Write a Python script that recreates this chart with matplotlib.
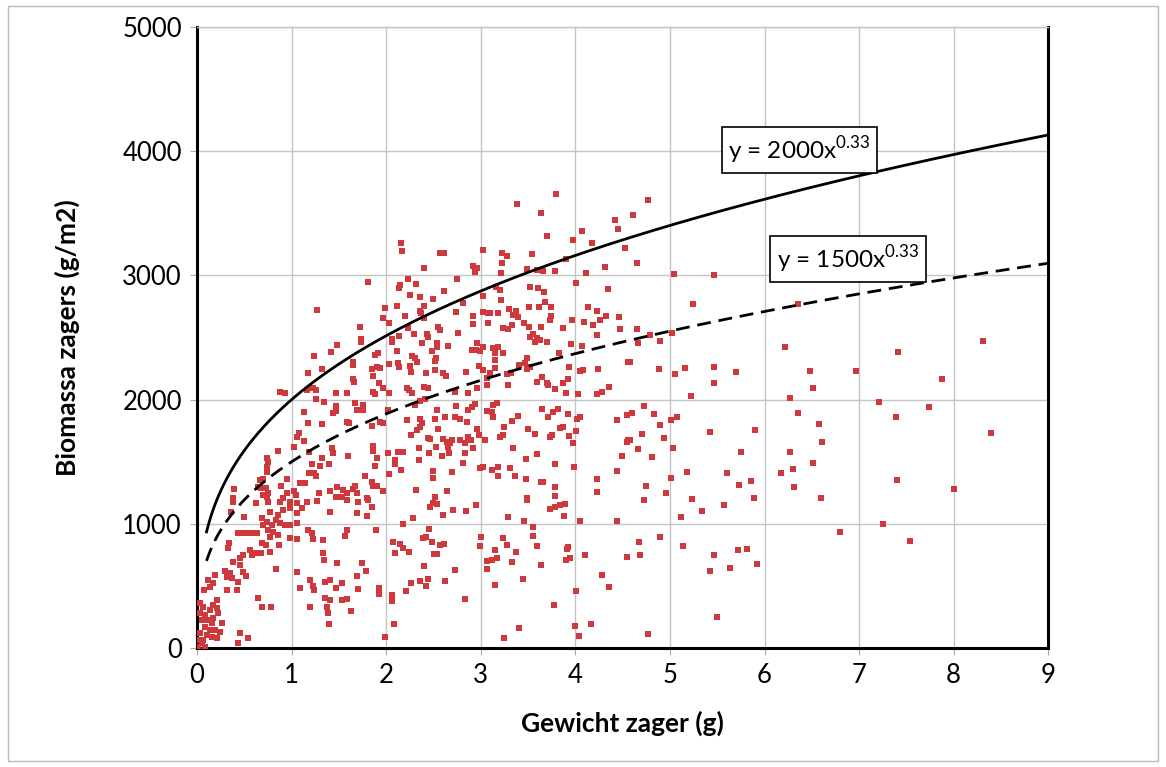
import numpy as np
import matplotlib
matplotlib.use("Agg")
import matplotlib.pyplot as plt
from matplotlib.patches import Rectangle

plt.rcParams['font.family'] = ['Lato', 'DejaVu Sans']
plt.rcParams['mathtext.fontset'] = 'custom'
plt.rcParams['mathtext.rm'] = 'Lato'

punten_rechts = [
    (4.77, 3607), (4.61, 3486), (4.65, 3100), (5.04, 3011), (5.47, 3003), (5.24, 2770),
    (6.35, 2770), (4.65, 2568), (4.79, 2520), (4.66, 2456), (4.89, 2472), (5.02, 2536),
    (6.22, 2424), (4.58, 2303), (4.88, 2246), (5.05, 2206), (5.16, 2254), (5.47, 2262),
    (5.47, 2134), (5.70, 2222), (6.48, 2230), (6.51, 2093), (5.22, 2029), (6.27, 2013),
    (4.60, 1892), (4.73, 1948), (4.83, 1884), (4.90, 1795), (5.01, 1836), (5.07, 1860),
    (6.35, 1892), (4.70, 1723), (4.94, 1691), (4.58, 1675), (5.42, 1739), (5.90, 1755),
    (6.58, 1804), (6.61, 1659), (4.66, 1602), (5.03, 1610), (4.81, 1538), (5.75, 1578),
    (6.27, 1578), (6.51, 1490), (5.18, 1417), (5.60, 1409), (6.17, 1409), (6.30, 1441),
    (5.01, 1369), (4.75, 1304), (5.73, 1312), (5.86, 1345), (6.31, 1296), (4.96, 1248),
    (4.73, 1192), (5.23, 1200), (5.57, 1151), (5.89, 1208), (6.60, 1208), (5.34, 1103),
    (5.12, 1055), (6.80, 934), (4.67, 853), (4.89, 894), (4.68, 749), (5.14, 821),
    (5.47, 749), (5.72, 789), (5.81, 797), (5.42, 620), (5.64, 644), (5.92, 676),
    (5.50, 250), (4.77, 113),
    (8.31, 2472), (7.41, 2383), (6.97, 2230), (7.88, 2166), (7.21, 1981), (7.74, 1940),
    (7.39, 1860), (8.40, 1731), (7.40, 1353), (8.00, 1280), (7.25, 998), (7.54, 862),
]

punten_boven = [
    (1.27, 2721),
    (2.16, 3261), (2.17, 3196), (2.57, 3180), (2.61, 3180), (3.02, 3204), (2.40, 3060),
    (2.92, 3076), (2.96, 3060), (2.94, 3027), (1.81, 2947), (2.23, 2971), (2.75, 2971),
    (2.15, 2923), (2.14, 2899), (2.32, 2931), (2.61, 2874), (2.25, 2842), (2.36, 2826),
    (2.49, 2810), (3.02, 2834), (1.99, 2737), (2.11, 2754), (2.40, 2754), (2.36, 2713),
    (2.37, 2697), (2.81, 2778), (2.74, 2705), (1.97, 2657), (2.03, 2617), (2.20, 2673),
    (2.40, 2657), (2.92, 2673), (2.92, 2609), (3.02, 2705), (3.08, 2697), (3.08, 2617),
    (1.72, 2585), (2.23, 2576), (2.55, 2585), (2.57, 2560), (2.76, 2536), (2.29, 2528),
    (2.43, 2528), (2.44, 2504), (2.14, 2512), (2.06, 2488), (1.73, 2488),
    (3.80, 3655), (3.38, 3575), (3.64, 3502), (4.42, 3446), (4.45, 3373), (4.07, 3357),
    (3.70, 3317), (3.97, 3285), (4.18, 3261), (4.52, 3221), (3.22, 3180), (3.28, 3156),
    (3.54, 3172), (3.90, 3132), (3.22, 3100), (4.31, 3068), (3.21, 3019), (3.49, 3051),
    (3.59, 3043), (3.66, 3035), (3.78, 3035), (4.11, 3019), (3.16, 2907), (3.20, 2882),
    (3.52, 2907), (3.60, 2899), (3.67, 2866), (4.01, 2939), (4.34, 2890), (3.21, 2802),
    (3.68, 2786), (3.51, 2745), (3.62, 2745), (3.74, 2745), (4.13, 2745), (3.10, 2697),
    (3.18, 2697), (3.30, 2729), (3.37, 2713), (3.34, 2681), (3.39, 2665), (3.74, 2673),
    (3.73, 2641), (4.23, 2713), (4.32, 2673), (4.26, 2641), (4.46, 2665), (3.46, 2617),
    (3.51, 2585), (3.23, 2576), (3.29, 2568), (3.33, 2601), (3.64, 2585), (3.87, 2576),
    (3.96, 2641), (4.09, 2625), (4.19, 2601), (4.47, 2568), (4.23, 2520), (3.55, 2528),
    (3.59, 2496), (3.52, 2504),
]

punten_midden = [
    (1.48, 2440), (1.42, 2383), (1.24, 2351), (1.32, 2246), (1.17, 2214), (0.88, 2061),
    (0.93, 2053), (1.16, 2077), (1.23, 2093), (1.26, 2077), (1.47, 2053), (1.26, 2005),
    (1.34, 1981), (1.47, 1948), (1.47, 1908), (1.44, 1892), (1.13, 1900), (1.17, 1812),
    (1.32, 1804), (1.08, 1731), (1.06, 1699), (1.13, 1667), (1.03, 1618), (0.86, 1586),
    (1.18, 1578), (1.43, 1610), (1.44, 1570), (0.74, 1530), (0.75, 1498), (0.74, 1457),
    (1.32, 1530), (1.22, 1481), (1.30, 1465), (1.40, 1481), (1.18, 1409), (1.24, 1409),
    (1.26, 1385), (0.74, 1417), (0.67, 1353), (0.70, 1361), (0.95, 1361), (0.89, 1304),
    (1.09, 1328), (1.14, 1328), (0.64, 1296), (0.68, 1288), (0.73, 1288), (0.39, 1280),
    (0.75, 1248), (0.74, 1216), (0.70, 1232), (0.95, 1248), (1.03, 1264), (1.05, 1232),
    (1.29, 1248), (1.41, 1264), (1.48, 1296), (1.47, 1216), (0.91, 1208), (0.38, 1208),
    (1.73, 2464), (2.06, 2464), (2.38, 2456), (2.54, 2456), (2.54, 2424), (2.65, 2432),
    (2.96, 2456), (3.02, 2424), (2.95, 2399), (1.88, 2359), (1.91, 2375), (2.11, 2391),
    (2.27, 2351), (2.33, 2303), (2.30, 2335), (2.48, 2391), (2.53, 2335), (2.52, 2311),
    (2.91, 2399), (2.99, 2391), (1.65, 2303), (1.65, 2278), (2.03, 2287), (2.12, 2295),
    (2.14, 2262), (2.25, 2270), (1.85, 2246), (1.90, 2262), (1.93, 2254), (2.26, 2222),
    (2.42, 2214), (2.52, 2238), (2.60, 2214), (2.63, 2190), (2.84, 2222), (2.98, 2270),
    (3.02, 2238), (1.65, 2166), (1.66, 2142), (1.86, 2190), (1.92, 2134), (1.97, 2093),
    (2.03, 2053), (1.86, 2061), (1.88, 2045), (1.59, 2053), (2.22, 2093), (2.24, 2077),
    (2.27, 2053), (2.40, 2101), (2.44, 2093), (2.36, 1989), (2.41, 2005), (2.73, 2061),
    (2.86, 2053), (2.96, 2093), (3.07, 2174), (3.07, 2118), (1.67, 1973), (1.75, 1957),
    (1.69, 1916), (1.75, 1916), (2.02, 1916), (2.30, 1957), (2.54, 1916), (2.74, 1948),
    (2.86, 1916), (2.91, 1940), (2.94, 1965), (3.07, 1908), (1.59, 1820), (1.61, 1812),
    (1.85, 1787), (1.93, 1820), (1.97, 1812), (2.22, 1836), (2.36, 1844), (2.38, 1812),
    (2.36, 1779), (2.52, 1844), (2.62, 1860), (2.73, 1860), (2.78, 1844), (2.85, 1820),
    (2.96, 1763), (2.26, 1715), (2.33, 1755), (2.55, 1763), (2.44, 1691), (2.46, 1683),
    (2.60, 1683), (2.64, 1659), (2.67, 1651), (2.70, 1675), (2.78, 1675), (2.83, 1651),
    (2.86, 1699), (2.90, 1675), (2.92, 1610), (2.98, 1715), (3.04, 1675), (1.86, 1626),
    (1.86, 1586), (1.60, 1546), (2.02, 1570), (2.12, 1578), (2.18, 1578), (2.35, 1610),
    (2.45, 1570), (2.53, 1618), (2.65, 1618), (2.59, 1546), (2.66, 1570), (2.83, 1570),
    (2.92, 1610), (1.90, 1530), (2.09, 1514), (2.09, 1481), (2.35, 1514), (2.81, 1490),
    (3.02, 1457), (2.99, 1449), (1.88, 1465), (2.16, 1433), (2.03, 1401), (2.49, 1425),
    (2.49, 1369), (2.70, 1417), (1.78, 1385), (1.67, 1304), (1.65, 1280), (1.85, 1336),
    (1.86, 1304), (1.90, 1304), (1.54, 1272), (1.59, 1248), (1.53, 1216), (1.69, 1248),
    (1.97, 1264), (2.32, 1272), (2.64, 1264), (1.80, 1208), (2.52, 1216),
    (3.57, 2464), (3.63, 2480), (3.70, 2464), (3.13, 2415), (3.18, 2424), (3.15, 2375),
    (3.23, 2375), (3.95, 2448), (4.07, 2432), (3.83, 2375), (4.56, 2303), (3.15, 2319),
    (3.15, 2254), (3.49, 2335), (3.47, 2295), (3.52, 2262), (3.49, 2246), (3.40, 2278),
    (3.93, 2262), (4.05, 2230), (4.08, 2238), (4.24, 2246), (3.28, 2206), (3.32, 2214),
    (3.29, 2118), (3.10, 2214), (3.65, 2182), (3.59, 2142), (3.70, 2134), (3.71, 2118),
    (3.92, 2166), (3.87, 2134), (3.78, 2085), (3.90, 2053), (4.03, 2045), (4.23, 2045),
    (4.28, 2061), (4.36, 2101), (3.13, 1957), (3.17, 1973), (3.12, 1900), (3.13, 1860),
    (3.65, 1924), (3.71, 1860), (3.76, 1900), (3.82, 1924), (3.39, 1868), (3.33, 1828),
    (3.92, 1884), (4.05, 1860), (4.02, 1844), (4.44, 1836), (4.55, 1876), (3.25, 1779),
    (3.23, 1715), (3.20, 1699), (3.50, 1763), (3.57, 1723), (3.84, 1771), (3.87, 1779),
    (3.75, 1715), (3.73, 1699), (4.01, 1747), (3.93, 1707), (3.97, 1651), (4.55, 1659),
    (4.56, 1675), (3.34, 1610), (3.59, 1562), (3.48, 1522), (4.49, 1546), (3.78, 1481),
    (3.18, 1457), (3.12, 1433), (3.18, 1385), (3.31, 1449), (3.36, 1385), (3.99, 1457),
    (4.44, 1425), (3.48, 1361), (3.64, 1336), (3.66, 1336), (3.79, 1296), (4.23, 1361),
    (4.23, 1256), (3.49, 1208), (3.79, 1224),
]

punten_onder = [
    (0.38, 1176), (0.62, 1167), (0.75, 1176), (0.88, 1176), (0.98, 1176), (1.06, 1167),
    (1.16, 1176), (1.27, 1184), (0.36, 1095), (0.50, 1055), (0.77, 1095), (0.86, 1071),
    (0.91, 1111), (0.98, 1127), (1.06, 1087), (1.11, 1127), (1.41, 1095), (0.69, 1047),
    (0.74, 1014), (0.70, 990), (0.79, 990), (0.84, 1030), (0.88, 1006), (0.93, 990),
    (0.98, 990), (1.06, 1006), (0.75, 950), (0.80, 934), (0.86, 910), (1.17, 950),
    (1.22, 926), (1.23, 878), (0.43, 926), (0.49, 926), (0.54, 926), (0.59, 926),
    (0.63, 926), (0.77, 894), (0.98, 886), (1.06, 878), (1.33, 870), (0.34, 845),
    (0.33, 805), (0.69, 845), (0.73, 829), (0.87, 829), (0.56, 789), (0.61, 765),
    (0.68, 765), (0.77, 773), (1.33, 765), (1.34, 709), (0.49, 749), (0.45, 725),
    (0.38, 692), (0.58, 749), (0.45, 668), (1.48, 684), (0.84, 636), (0.30, 620),
    (0.35, 604), (0.37, 564), (0.32, 572), (0.49, 612), (0.52, 580), (0.19, 588),
    (1.06, 612), (0.12, 548), (0.17, 523), (0.14, 491), (0.43, 531), (0.42, 467),
    (0.32, 467), (0.07, 467), (1.19, 548), (1.23, 499), (1.24, 467), (1.09, 483),
    (1.35, 531), (1.41, 548), (1.47, 483), (0.21, 386), (0.17, 346), (0.21, 322),
    (0.14, 306), (0.64, 403), (0.69, 330), (0.78, 330), (1.19, 330), (1.35, 403),
    (1.41, 386), (1.37, 330), (1.38, 282), (1.40, 193),
    (0.03, 362), (0.06, 330), (0.03, 282), (0.08, 266), (0.05, 225), (0.12, 225),
    (0.16, 201), (0.08, 169), (0.14, 145), (0.03, 121), (0.11, 105), (0.00, 64),
    (0.06, 64), (0.01, 8), (0.05, 40), (0.17, 242), (0.22, 282), (0.26, 201),
    (0.19, 145), (0.24, 129), (0.16, 89), (0.21, 81), (0.08, 8), (0.00, 0),
    (0.45, 121), (0.43, 40), (0.54, 81),
    (1.59, 1192), (1.70, 1176), (1.81, 1192), (1.85, 1135), (1.69, 1087), (1.80, 1063),
    (1.59, 950), (1.56, 902), (1.89, 950), (1.74, 684), (1.79, 620), (1.69, 580),
    (1.53, 523), (1.70, 475), (1.92, 483), (1.92, 435), (1.53, 386), (1.59, 395),
    (1.63, 298), (1.99, 89), (2.06, 427), (2.06, 378), (2.08, 193), (2.18, 998),
    (2.28, 1047), (2.46, 1135), (2.49, 1167), (2.54, 1159), (2.60, 1071), (2.71, 1111),
    (2.84, 1103), (2.95, 1151), (2.07, 853), (2.09, 765), (2.15, 837), (2.18, 805),
    (2.24, 773), (2.45, 958), (2.39, 886), (2.42, 894), (2.48, 853), (2.57, 829),
    (2.61, 837), (2.51, 757), (2.54, 757), (2.40, 660), (2.26, 523), (2.21, 459),
    (2.36, 539), (2.44, 556), (2.42, 499), (2.62, 539), (2.73, 628), (2.83, 395),
    (3.00, 894), (2.99, 821), (3.07, 700), (3.07, 636),
    (3.49, 1192), (3.73, 1119), (3.78, 1135), (3.84, 1151), (3.89, 1159), (3.29, 1055),
    (3.46, 1022), (3.88, 1063), (4.05, 1022), (4.44, 1022), (3.55, 974), (3.55, 902),
    (3.23, 886), (3.28, 829), (3.59, 821), (3.15, 789), (3.37, 773), (3.92, 813),
    (3.91, 797), (3.12, 709), (3.17, 725), (3.33, 692), (3.90, 709), (3.94, 725),
    (4.10, 749), (4.55, 733), (3.64, 668), (4.28, 588), (4.36, 491), (3.45, 556),
    (3.15, 507), (4.01, 459), (3.77, 346), (3.40, 161), (3.25, 81), (4.00, 177),
    (4.17, 193), (4.04, 97),
]

# machtsfuncties y = a * x^b
a_boven, a_onder, exponent = 2000, 1500, 0.33
x_start, x_eind = 0.1, 9

punten = punten_rechts + punten_boven + punten_midden + punten_onder
gewicht = [p[0] for p in punten]
biomassa = [p[1] for p in punten]

fig = plt.figure(figsize=(11.66, 7.67), dpi=100)
ax = fig.add_axes([0.169, 0.155, 0.73, 0.81])

ax.scatter(gewicht, biomassa, marker='s', s=20, color='#cf383c', linewidths=0, zorder=3)

xc = np.linspace(x_start, x_eind, 400)
ax.plot(xc, a_boven * xc ** exponent, color='black', lw=2.0, zorder=4)
ax.plot(xc, a_onder * xc ** exponent, color='black', lw=2.0, ls=(0, (5, 2.8)), zorder=4)

ax.set_xlim(0, 9)
ax.set_ylim(0, 5000)
ax.set_xticks(range(0, 10))
ax.set_yticks(range(0, 5001, 1000))
ax.grid(True, color='#c4c4c4', lw=1.0)
ax.set_axisbelow(True)
ax.tick_params(labelsize=18.5, length=5, color='#aaaaaa', pad=6)

for kant in ['left', 'bottom', 'right']:
    ax.spines[kant].set_color('black')
    ax.spines[kant].set_linewidth(2.2)
ax.spines['top'].set_color('#c4c4c4')
ax.spines['top'].set_linewidth(1.0)

ax.set_xlabel('Gewicht zager (g)', fontsize=19, fontweight='bold', labelpad=16)
ax.set_ylabel('Biomassa zagers (g/m2)', fontsize=19, fontweight='bold', labelpad=30)

kader = dict(boxstyle='square,pad=0.28', fc='white', ec='black', lw=1.2)
ax.text(6.37, 4010, 'y = 2000x$^{0.33}$', fontsize=17.5, ha='center', va='center', bbox=kader, zorder=5)
ax.text(6.88, 3132, 'y = 1500x$^{0.33}$', fontsize=17.5, ha='center', va='center', bbox=kader, zorder=5)

fig.patches.append(Rectangle((0.007, 0.008), 0.986, 0.984, transform=fig.transFigure,
                             fill=False, ec='#bbbbbb', lw=1.0))

fig.savefig('out.png', dpi=100)
